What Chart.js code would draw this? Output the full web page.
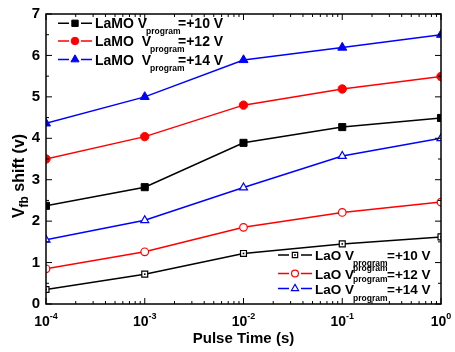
<!DOCTYPE html>
<html>
<head>
<meta charset="utf-8">
<script src="https://cdn.jsdelivr.net/npm/chart.js@4"></script>
<style>
  html, body { margin: 0; padding: 0; background: #fff; }
  #wrap { width: 455px; height: 352px; }
</style>
</head>
<body>
<div id="wrap"><canvas id="vfbChart"></canvas></div>
<script>
// data
const pulseTimes = [1e-4, 1e-3, 1e-2, 1e-1, 1];
const lamo10 = [2.37, 2.82, 3.89, 4.27, 4.49];
const lamo12 = [3.50, 4.04, 4.80, 5.19, 5.49];
const lamo14 = [4.36, 5.00, 5.89, 6.19, 6.50];
const lao10 = [0.35, 0.72, 1.22, 1.45, 1.62];
const lao12 = [0.85, 1.26, 1.85, 2.21, 2.46];
const lao14 = [1.55, 2.02, 2.81, 3.57, 4.00];

const xTickExps = [-4, -3, -2, -1, 0];
const yTicks = [0, 1, 2, 3, 4, 5, 6, 7];

const FONT = "'Liberation Sans', Arial, sans-serif";

function pts(ys) {
    return pulseTimes.map((t, i) => ({ x: t, y: ys[i] }));
}

const radii = {
    filled: { rect: 5, circle: 4.2, triangle: 5.2 },
    open: { rect: 4.2, circle: 3.8, triangle: 4.6 }
};

function series(label, subs, tail, ys, color, style, filled, group) {
    return {
        label: label,
        legendSubs: subs,
        legendTail: tail,
        legendGroup: group,
        hollow: !filled,
        data: pts(ys),
        borderColor: color,
        borderWidth: 1.5,
        pointStyle: style,
        pointRadius: radii[filled ? "filled" : "open"][style],
        pointBorderWidth: filled ? 1 : 1.2,
        pointBorderColor: color,
        pointBackgroundColor: filled ? color : "#fff",
        tension: 0,
        clip: 0
    };
}

// draws text pieces in a row; each piece {t, size, dy}
function richText(ctx, x, y, parts) {
    let cx = x;
    parts.forEach(p => {
        ctx.font = "bold " + p.size + "px " + FONT;
        ctx.fillText(p.t, cx, y + (p.dy || 0));
        cx += ctx.measureText(p.t).width;
    });
    return cx;
}

function richWidth(ctx, parts) {
    let w = 0;
    parts.forEach(p => {
        ctx.font = "bold " + p.size + "px " + FONT;
        w += ctx.measureText(p.t).width;
    });
    return w;
}

// same shapes as Chart.js draws them
function marker(ctx, ds, x, y, r) {
    ctx.save();
    ctx.fillStyle = ds.pointBackgroundColor;
    ctx.strokeStyle = ds.pointBorderColor;
    ctx.lineWidth = ds.pointBorderWidth;
    ctx.beginPath();
    if (ds.pointStyle === "rect") {
        const s = r * Math.SQRT1_2;
        ctx.rect(x - s, y - s, 2 * s, 2 * s);
    } else if (ds.pointStyle === "circle") {
        ctx.arc(x, y, r, 0, Math.PI * 2);
    } else {
        ctx.moveTo(x, y - r);
        ctx.lineTo(x + r * 0.866, y + r * 0.5);
        ctx.lineTo(x - r * 0.866, y + r * 0.5);
        ctx.closePath();
    }
    ctx.fill();
    ctx.stroke();
    if (ds.hollow && ds.pointStyle === "rect") {
        ctx.fillStyle = ds.pointBorderColor;
        ctx.fillRect(x - 0.8, y - 0.8, 1.6, 1.6);
    }
    ctx.restore();
}

// dot inside the hollow squares
const squareDots = {
    id: "squareDots",
    afterDatasetsDraw(chart) {
        const ctx = chart.ctx;
        const a = chart.chartArea;
        ctx.save();
        ctx.beginPath();
        ctx.rect(a.left, a.top, a.right - a.left, a.bottom - a.top);
        ctx.clip();
        chart.data.datasets.forEach((ds, i) => {
            if (!(ds.hollow && ds.pointStyle === "rect")) return;
            ctx.fillStyle = ds.pointBorderColor;
            chart.getDatasetMeta(i).data.forEach(el => {
                ctx.fillRect(el.x - 0.8, el.y - 0.8, 1.6, 1.6);
            });
        });
        ctx.restore();
    }
};

const decorations = {
    id: "decorations",
    afterDraw(chart) {
        const ctx = chart.ctx;
        const a = chart.chartArea;
        const xs = chart.scales.x;
        const ys = chart.scales.y;
        ctx.save();
        ctx.strokeStyle = "#000";
        ctx.fillStyle = "#000";

        // frame
        ctx.lineWidth = 1.5;
        ctx.strokeRect(a.left, a.top, a.right - a.left, a.bottom - a.top);

        // ticks, pointing inward, on all four sides
        ctx.lineWidth = 1;
        ctx.beginPath();
        xTickExps.forEach((e, i) => {
            const px = xs.getPixelForValue(Math.pow(10, e));
            ctx.moveTo(px, a.bottom); ctx.lineTo(px, a.bottom - 6);
            ctx.moveTo(px, a.top); ctx.lineTo(px, a.top + 6);
            if (i < xTickExps.length - 1) {
                for (let k = 2; k <= 9; k++) {
                    const mx = xs.getPixelForValue(k * Math.pow(10, e));
                    ctx.moveTo(mx, a.bottom); ctx.lineTo(mx, a.bottom - 3);
                    ctx.moveTo(mx, a.top); ctx.lineTo(mx, a.top + 3);
                }
            }
        });
        yTicks.forEach((v, i) => {
            const py = ys.getPixelForValue(v);
            ctx.moveTo(a.left, py); ctx.lineTo(a.left + 6, py);
            ctx.moveTo(a.right, py); ctx.lineTo(a.right - 6, py);
            if (i < yTicks.length - 1) {
                const my = ys.getPixelForValue(v + 0.5);
                ctx.moveTo(a.left, my); ctx.lineTo(a.left + 3, my);
                ctx.moveTo(a.right, my); ctx.lineTo(a.right - 3, my);
            }
        });
        ctx.stroke();

        // y tick labels
        ctx.font = "bold 15px " + FONT;
        ctx.textAlign = "right";
        ctx.textBaseline = "middle";
        yTicks.forEach(v => {
            ctx.fillText(String(v), a.left - 6, ys.getPixelForValue(v));
        });

        // x tick labels 10^n
        ctx.textAlign = "left";
        ctx.textBaseline = "alphabetic";
        xTickExps.forEach(e => {
            const parts = [{ t: "10", size: 14 }, { t: String(e), size: 9, dy: -7 }];
            const w = richWidth(ctx, parts);
            richText(ctx, xs.getPixelForValue(Math.pow(10, e)) - w / 2, a.bottom + 22, parts);
        });

        // x title
        ctx.font = "bold 15px " + FONT;
        ctx.textAlign = "center";
        ctx.fillText("Pulse Time (s)", (a.left + a.right) / 2, a.bottom + 38.5);

        // y title
        ctx.save();
        ctx.translate(24, 176);
        ctx.rotate(-Math.PI / 2);
        ctx.textAlign = "left";
        const yt = [{ t: "V", size: 16 }, { t: "fb", size: 12, dy: 4 }, { t: " shift (v)", size: 16 }];
        richText(ctx, -richWidth(ctx, yt) / 2, 0, yt);
        ctx.restore();

        // legends
        ctx.textAlign = "left";
        const groups = {
            top: { x: 58, rowsY: [23.3, 41, 59.5], size: 14, tailX: 178, r: radii.filled },
            bottom: { x: 278, rowsY: [255, 273.5, 288.5], size: 13.5, tailX: 387, r: radii.open }
        };
        const rows = { top: 0, bottom: 0 };
        chart.data.datasets.forEach(ds => {
            const g = groups[ds.legendGroup];
            const y = g.rowsY[rows[ds.legendGroup]++];
            const r = g.r[ds.pointStyle] * 0.9;
            ctx.strokeStyle = ds.borderColor;
            ctx.lineWidth = 1.5;
            ctx.beginPath();
            ctx.moveTo(g.x, y); ctx.lineTo(g.x + 11, y);
            ctx.moveTo(g.x + 23, y); ctx.lineTo(g.x + 34, y);
            ctx.stroke();
            marker(ctx, ds, g.x + 17, y, r);
            ctx.fillStyle = "#000";
            const vEnd = richText(ctx, g.x + 37, y + 5, [{ t: ds.label, size: g.size }]);
            ds.legendSubs.forEach(dy => {
                richText(ctx, vEnd - 1, y + 5 + dy, [{ t: "program", size: 8.5 }]);
            });
            richText(ctx, g.tailX, y + 5, [{ t: ds.legendTail, size: g.size }]);
        });
        ctx.restore();
    }
};

new Chart(document.getElementById("vfbChart"), {
    type: "line",
    data: {
        datasets: [
            series("LaMO V", [6], "=+10 V", lamo10, "#000000", "rect", true, "top"),
            series("LaMO  V", [6], "=+12 V", lamo12, "#ff0000", "circle", true, "top"),
            series("LaMO  V", [6], "=+14 V", lamo14, "#0000ff", "triangle", true, "top"),
            series("LaO V", [6], "=+10 V", lao10, "#000000", "rect", false, "bottom"),
            series("LaO V", [-8], "=+12 V", lao12, "#ff0000", "circle", false, "bottom"),
            series("LaO V", [-12, 7], "=+14 V", lao14, "#0000ff", "triangle", false, "bottom")
        ]
    },
    options: {
        responsive: true,
        maintainAspectRatio: false,
        animation: false,
        layout: { padding: { left: 46, top: 14, right: 14, bottom: 48 } },
        plugins: { legend: { display: false }, tooltip: { enabled: false } },
        scales: {
            x: { type: "logarithmic", min: 1e-4, max: 1, display: false },
            y: { min: 0, max: 7, display: false }
        }
    },
    plugins: [squareDots, decorations]
});
</script>
</body>
</html>
